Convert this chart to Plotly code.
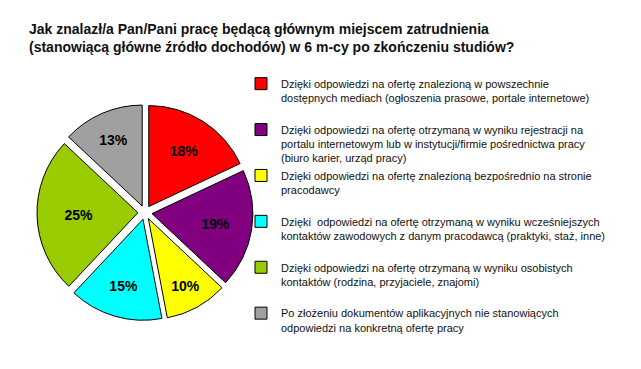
import plotly.graph_objects as go

title_lines = [
    "Jak znalazł/a Pan/Pani pracę będącą głównym miejscem zatrudnienia",
    "(stanowiącą główne źródło dochodów) w 6 m-cy po zkończeniu studiów?",
]

labels = [
    "Dzięki odpowiedzi na ofertę znalezioną w powszechnie<br>dostępnych mediach (ogłoszenia prasowe, portale internetowe)",
    "Dzięki odpowiedzi na ofertę otrzymaną w wyniku rejestracji na<br>portalu internetowym lub w instytucji/firmie pośrednictwa pracy<br>(biuro karier, urząd pracy)",
    "Dzięki odpowiedzi na ofertę znalezioną bezpośrednio na stronie<br>pracodawcy",
    "Dzięki  odpowiedzi na ofertę otrzymaną w wyniku wcześniejszych<br>kontaktów zawodowych z danym pracodawcą (praktyki, staż, inne)",
    "Dzięki odpowiedzi na ofertę otrzymaną w wyniku osobistych<br>kontaktów (rodzina, przyjaciele, znajomi)",
    "Po złożeniu dokumentów aplikacyjnych nie stanowiących<br>odpowiedzi na konkretną ofertę pracy",
]
values = [18, 19, 10, 15, 25, 13]
colors = ["#FF0000", "#800080", "#FFFF00", "#00FFFF", "#99CC00", "#A0A0A0"]

# a trailing blank line on two-line entries gives the legend its spacing
legend_labels = [l + "<br> " if l.count("<br>") < 2 else l for l in labels[:-1]] + [labels[-1]]

fig = go.Figure(
    go.Pie(
        labels=legend_labels,
        values=values,
        sort=False,
        direction="clockwise",
        rotation=0,
        pull=0.07,
        marker=dict(colors=colors, line=dict(color="#000000", width=1)),
        texttemplate="%{value}%",
        textposition="inside",
        insidetextorientation="horizontal",
        textfont=dict(family="Arial", size=14, color="#000000", weight="bold"),
        domain=dict(x=[0.0577, 0.3947], y=[0.1314, 0.7168]),
        hoverinfo="skip",
    )
)

fig.add_annotation(
    text="<br>".join(title_lines),
    xref="paper",
    yref="paper",
    x=27 / 641,
    y=1 - 19 / 369,
    xanchor="left",
    yanchor="top",
    align="left",
    showarrow=False,
    font=dict(family="Arial", size=14, color="#111111", weight="bold"),
)

fig.update_layout(
    width=641,
    height=369,
    margin=dict(l=0, r=0, t=0, b=0),
    paper_bgcolor="white",
    plot_bgcolor="white",
    legend=dict(
        x=241 / 641,
        xanchor="left",
        y=1 - 70 / 369,
        yanchor="top",
        valign="top",
        font=dict(family="Arial", size=11, color="#111111"),
        bgcolor="rgba(0,0,0,0)",
    ),
    showlegend=True,
)

fig.write_html("out.html")
